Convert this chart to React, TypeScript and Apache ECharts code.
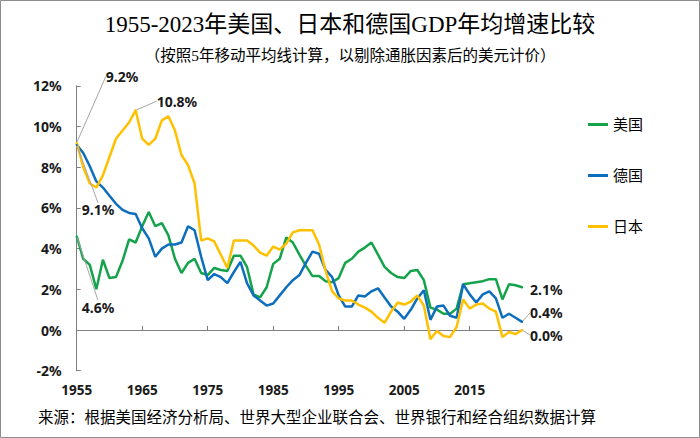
import React, { useEffect, useRef } from 'react'
import * as echarts from 'echarts'

// 1955-2023, 5年移动平均
const years: string[] = Array.from({ length: 69 }, (_, i) => String(1955 + i))

const usGrowth = [
  4.6, 3.5, 3.2, 2.0, 3.45, 2.55, 2.6, 3.4, 4.45, 4.3,
  5.1, 5.8, 5.1, 5.25, 4.65, 3.5, 2.8, 3.3, 3.5, 2.8,
  2.7, 3.05, 2.95, 2.9, 3.65, 3.65, 3.1, 1.75, 1.6, 2.1,
  3.25, 3.5, 4.55, 4.3, 3.7, 3.15, 2.65, 2.65, 2.4, 2.35,
  2.55, 3.3, 3.5, 3.85, 4.05, 4.3, 3.7, 3.1, 2.8, 2.6,
  2.55, 2.9, 2.95, 2.45, 1.1, 1.0, 0.8, 0.8, 1.05, 2.25,
  2.3, 2.35, 2.4, 2.5, 2.5, 1.5, 2.25, 2.2, 2.1
]

const deGrowth = [
  9.1, 8.7, 8.05, 7.3, 7.0, 6.6, 6.2, 5.9, 5.75, 5.7,
  5.0, 4.5, 3.6, 4.0, 4.2, 4.2, 4.3, 5.1, 4.9, 3.6,
  2.45, 2.75, 2.6, 2.3, 2.85, 3.35, 2.3, 1.7, 1.45, 1.2,
  1.3, 1.7, 2.1, 2.45, 2.7, 3.3, 3.85, 3.75, 2.95, 2.6,
  1.7, 1.15, 1.15, 1.7, 1.65, 1.9, 2.05, 1.6, 1.15, 0.9,
  0.55, 0.99, 1.55, 1.95, 0.5, 1.15, 1.2, 0.7, 0.6, 2.25,
  1.75, 1.35, 1.75, 1.9, 1.55, 0.6, 0.8, 0.6, 0.4
]

const jpGrowth = [
  9.2, 8.0, 7.2, 7.0, 7.6, 8.5, 9.4, 9.8, 10.2, 10.8,
  9.4, 9.1, 9.4, 10.3, 10.5, 9.8, 8.6, 8.1, 7.2, 4.4,
  4.5, 4.35, 3.7, 3.05, 4.4, 4.4, 4.4, 4.15, 3.8, 3.65,
  4.1, 3.95, 4.25, 4.8, 4.9, 4.9, 4.9, 4.2, 2.9, 1.9,
  1.55, 1.45, 1.45, 1.25, 1.1, 0.9, 0.6, 0.35, 0.9, 1.35,
  1.25, 1.4, 1.7, 1.2, -0.45, -0.05, -0.3, -0.35, 0.15, 1.5,
  1.05, 1.25, 1.3, 1.05, 0.9, -0.35, -0.1, -0.2, 0.0
]

const seriesNames = ['美国', '德国', '日本']
const seriesColors = ['#14A34B', '#0D6EBD', '#FFC000']

// 带数据标签的点：[系列序号, 数据序号, dx, dy]
const annotated: [number, number, number, number][] = [
  [2, 0, 23, -66],
  [2, 9, 15, -9],
  [1, 0, -1, 65],
  [0, 0, -1, 71],
  [0, 68, 2, 2],
  [1, 68, 2, -9],
  [2, 68, 2, 5]
]

const sansFont = "'Noto Sans', 'Open Sans', sans-serif"
const titleFont = "'Liberation Serif', 'Noto Sans CJK SC', serif"

const buildData = (values: number[], seriesIndex: number) =>
  values.map((v, i) => {
    const ann = annotated.find(a => a[0] === seriesIndex && a[1] === i)
    if (!ann) return v
    return {
      value: v,
      symbol: 'circle',
      symbolSize: 2,
      label: {
        show: true,
        position: 'right',
        formatter: `${v.toFixed(1)}%`
      },
      labelLine: { show: !(seriesIndex === 0 && i === 68) }
    }
  })

const App: React.FC = () => {
  const chartRef = useRef<HTMLDivElement>(null)

  useEffect(() => {
    if (!chartRef.current) return
    document.body.style.margin = '0'

    const chart = echarts.init(chartRef.current, undefined, { renderer: 'svg' })

    const allValues = [usGrowth, deGrowth, jpGrowth]

    const option = {
      animation: false,
      title: [
        {
          text: '1955-2023年美国、日本和德国GDP年均增速比较',
          subtext: '（按照5年移动平均线计算，以剔除通胀因素后的美元计价）',
          left: 'center',
          top: 13,
          padding: 0,
          itemGap: 12,
          textStyle: { fontSize: 23, fontWeight: 'normal', color: '#000', fontFamily: titleFont },
          subtextStyle: { fontSize: 15.5, color: '#000', fontFamily: titleFont }
        },
        {
          text: '来源：根据美国经济分析局、世界大型企业联合会、世界银行和经合组织数据计算',
          left: 38,
          top: 410,
          padding: 0,
          textStyle: { fontSize: 15.5, fontWeight: 'normal', color: '#000', fontFamily: titleFont }
        }
      ],
      graphic: [
        {
          type: 'rect',
          shape: { x: 0.5, y: 0.5, width: 699, height: 437 },
          style: { fill: 'none', stroke: '#8c8c8c', lineWidth: 1 },
          silent: true
        }
      ],
      legend: {
        orient: 'vertical',
        left: 588,
        top: 117,
        padding: 0,
        itemGap: 36,
        icon: 'rect',
        itemWidth: 20,
        itemHeight: 3,
        data: seriesNames,
        textStyle: { fontSize: 15, color: '#000', fontFamily: titleFont }
      },
      grid: { left: 76.7, right: 177.9, top: 85.8, bottom: 67.3 },
      xAxis: [
        {
          type: 'category',
          data: years,
          boundaryGap: false,
          axisLine: { onZero: true, lineStyle: { color: '#7f7f7f', width: 1 } },
          axisTick: { show: true, inside: true, interval: 9, length: 4, lineStyle: { color: '#7f7f7f' } },
          axisLabel: { show: false },
          splitLine: { show: false }
        },
        {
          type: 'category',
          data: years,
          position: 'bottom',
          boundaryGap: false,
          axisLine: { show: false, onZero: false },
          axisTick: { show: false },
          axisLabel: {
            interval: 9,
            margin: 12,
            fontSize: 13.5,
            fontWeight: 'bold',
            color: '#1a1a1a',
            fontFamily: sansFont
          },
          splitLine: { show: false }
        }
      ],
      yAxis: {
        type: 'value',
        min: -2,
        max: 12,
        interval: 2,
        axisLine: { show: true, lineStyle: { color: '#7f7f7f', width: 1 } },
        axisTick: { show: true, inside: true, length: 4, lineStyle: { color: '#7f7f7f' } },
        splitLine: { show: false },
        axisLabel: {
          formatter: '{value}%',
          margin: 15,
          fontSize: 14,
          fontWeight: 'bold',
          color: '#1a1a1a',
          fontFamily: sansFont
        }
      },
      series: allValues.map((values, idx) => ({
        name: seriesNames[idx],
        type: 'line',
        xAxisIndex: 0,
        data: buildData(values, idx),
        symbol: 'none',
        showSymbol: true,
        showAllSymbol: true,
        color: seriesColors[idx],
        itemStyle: { color: seriesColors[idx] },
        lineStyle: { width: 2.5, color: seriesColors[idx] },
        emphasis: { disabled: true },
        label: {
          fontSize: 14,
          fontWeight: 'bold',
          color: '#1a1a1a',
          fontFamily: sansFont
        },
        labelLine: { show: true, lineStyle: { color: '#a6a6a6', width: 1 } },
        labelLayout: (params: any) => {
          const ann = annotated.find(a => a[0] === params.seriesIndex && a[1] === params.dataIndex)
          return ann ? { dx: ann[2], dy: ann[3] } : {}
        }
      }))
    }

    chart.setOption(option)

    return () => {
      chart.dispose()
    }
  }, [])

  return <div ref={chartRef} style={{ width: 700, height: 438 }} />
}

export default App
